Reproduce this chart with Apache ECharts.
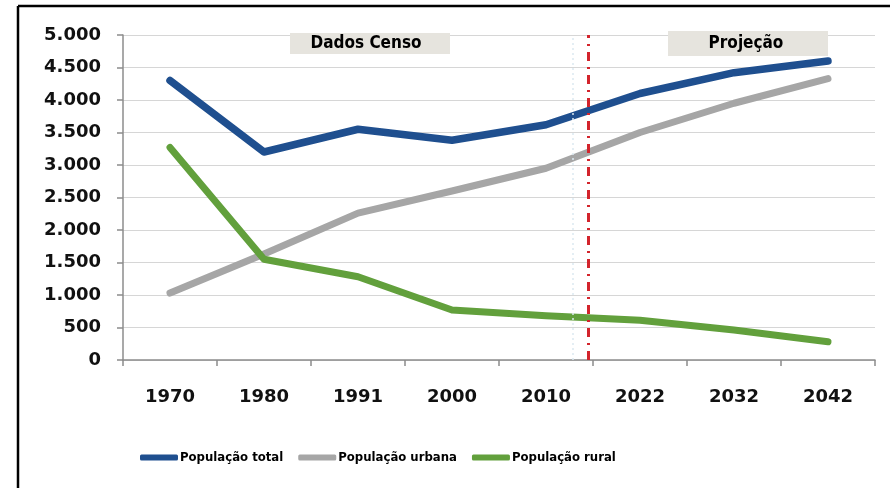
<!DOCTYPE html>
<html>
<head>
<meta charset="utf-8">
<script src="https://cdn.jsdelivr.net/npm/echarts@6/dist/echarts.min.js"></script>
<style>
  html, body { margin: 0; padding: 0; background: #fff; }
  #chart { width: 890px; height: 488px; }
</style>
</head>
<body>
<div id="chart"></div>
<script>
// Population (thousands) – census years and projections
const years = ['1970', '1980', '1991', '2000', '2010', '2022', '2032', '2042'];
const totalPop = [4300, 3200, 3550, 3380, 3620, 4100, 4420, 4600];
const urbanPop = [1030, 1630, 2260, 2600, 2950, 3500, 3950, 4330];
const ruralPop = [3270, 1550, 1280, 770, 680, 610, 460, 280];
const seriesNames = ['População total', 'População urbana', 'População rural'];
const yTicks = { min: 0, max: 5000, step: 500 };
// position (in category index units) of the census / projection split
const splitAt = 4.45;
const periodLabels = ['Dados Censo', 'Projeção'];

const chart = echarts.init(document.getElementById('chart'));

const axisFont = { fontFamily: 'DejaVu Sans', fontWeight: 'bold', fontSize: 18, color: '#111' };
const narrowFont = '"DejaVu Sans Condensed", "Liberation Sans Narrow", "Liberation Sans", sans-serif';

const fmt = v => String(v).replace(/\B(?=(\d{3})+(?!\d))/g, '.');

function periodBox(x, y, w, h, text, tx) {
  return {
    type: 'group',
    children: [
      { type: 'rect', shape: { x: x, y: y, width: w, height: h }, style: { fill: '#e6e4de' }, z: 5 },
      { type: 'text', x: tx, y: y + h / 2, style: {
          text: text, fill: '#000', font: 'bold 17px ' + narrowFont,
          textAlign: 'center', textVerticalAlign: 'middle' }, z: 6 }
    ]
  };
}

chart.setOption({
  backgroundColor: '#fff',
  animation: false,
  grid: { left: 123, right: 15, top: 35, bottom: 128 },
  legend: {
    data: seriesNames,
    bottom: 19,
    left: 135,
    icon: 'roundRect',
    itemWidth: 38,
    itemHeight: 6,
    itemGap: 15,
    textStyle: { fontFamily: narrowFont, fontWeight: 'bold', fontSize: 13, color: '#000', padding: [0, 0, 0, -3] }
  },
  xAxis: [
    {
      type: 'category',
      data: years,
      boundaryGap: true,
      axisLine: { lineStyle: { color: '#8c8c8c', width: 1.5 } },
      axisTick: { show: true, length: 6, lineStyle: { color: '#8c8c8c', width: 1.5 } },
      axisLabel: Object.assign({ margin: 28 }, axisFont)
    },
    {
      type: 'value', min: -0.5, max: 7.5, show: false
    }
  ],
  yAxis: {
    type: 'value',
    min: yTicks.min, max: yTicks.max, interval: yTicks.step,
    axisLine: { show: true, onZero: false, lineStyle: { color: '#8c8c8c', width: 1.5 } },
    axisTick: { show: true, length: 6, lineStyle: { color: '#8c8c8c', width: 1.5 } },
    splitLine: { lineStyle: { color: '#d6d6d6', width: 1 } },
    axisLabel: Object.assign({ margin: 22, formatter: fmt }, axisFont)
  },
  series: [
    {
      name: seriesNames[1], type: 'line', data: urbanPop, symbol: 'none',
      lineStyle: { color: '#a6a6a6', width: 7, cap: 'round', join: 'round' },
      itemStyle: { color: '#a6a6a6' }, z: 3
    },
    {
      name: seriesNames[2], type: 'line', data: ruralPop, symbol: 'none',
      lineStyle: { color: '#62a03c', width: 7, cap: 'round', join: 'round' },
      itemStyle: { color: '#62a03c' }, z: 3
    },
    {
      name: seriesNames[0], type: 'line', data: totalPop, symbol: 'none',
      lineStyle: { color: '#1f4f8f', width: 7.5, cap: 'round', join: 'round' },
      itemStyle: { color: '#1f4f8f' }, z: 4
    },
    {
      // census / projection divider
      type: 'line', xAxisIndex: 1, data: [], silent: true,
      markLine: {
        silent: true, symbol: 'none', label: { show: false },
        data: [
          { xAxis: splitAt - 0.17, lineStyle: { color: '#dbe9f1', width: 1.5, type: [2, 3] } },
          { xAxis: splitAt, lineStyle: { color: '#d3242c', width: 3, type: [9, 6, 2, 6] } }
        ]
      },
      z: 5
    }
  ],
  graphic: [
    periodBox(290, 33, 160, 21, periodLabels[0], 366),
    periodBox(668, 31, 160, 25, periodLabels[1], 746),
    // frame edges
    { type: 'line', shape: { x1: 18, y1: 6, x2: 890, y2: 6 }, style: { stroke: '#000', lineWidth: 2.5 }, z: 10 },
    { type: 'line', shape: { x1: 18, y1: 6, x2: 18, y2: 488 }, style: { stroke: '#000', lineWidth: 2.5 }, z: 10 }
  ]
});
</script>
</body>
</html>
